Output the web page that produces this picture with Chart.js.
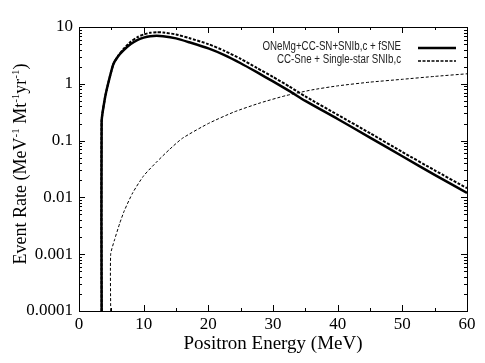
<!DOCTYPE html>
<html><head><meta charset="utf-8">
<script src="https://cdn.jsdelivr.net/npm/chart.js@4/dist/chart.umd.min.js"></script>
<style>html,body{margin:0;padding:0;background:#fff}#wrap{width:485px;height:363px}</style>
</head><body><div id="wrap"><canvas id="c" width="485" height="363"></canvas></div>
<script>
// Series: total (ONeMg+CC-SN+SNIb,c + fSNE), thick solid
const totalE = [3.5, 3.5, 4.0, 4.5, 5.3, 6.0, 6.8, 8.0, 9.0, 10.0, 11.0, 12.0, 13.0, 15.0, 17.0, 20.0, 22.5, 25.0, 27.5, 30.0, 32.5, 35.0, 40.0, 45.0, 50.0, 55.0, 60.0];
const totalR = [0.0001, 0.22, 0.55, 1.0, 2.2, 3.0, 3.8, 5.0, 5.9, 6.5, 6.9, 7.0, 6.9, 6.3, 5.4, 4.2, 3.2, 2.3, 1.6, 1.1, 0.75, 0.5, 0.24, 0.113, 0.053, 0.025, 0.012];
// Series: thick dashed
const thickDashE = [3.5, 3.5, 4.0, 4.5, 5.3, 6.0, 6.8, 8.0, 9.0, 10.0, 11.0, 12.0, 13.0, 15.0, 17.0, 20.0, 22.5, 25.0, 27.5, 30.0, 32.5, 35.0, 40.0, 45.0, 50.0, 55.0, 60.0];
const thickDashR = [0.0001, 0.22, 0.55, 1.0, 2.2, 3.05, 4.0, 5.5, 6.6, 7.4, 7.9, 8.1, 8.0, 7.4, 6.4, 5.0, 3.8, 2.75, 1.9, 1.32, 0.9, 0.6, 0.285, 0.135, 0.063, 0.03, 0.0145];
// Series: thin dashed
const thinE = [4.9, 4.9, 5.5, 6.3, 7.0, 8.3, 10.0, 12.0, 14.0, 16.0, 20.0, 24.0, 28.0, 32.0, 36.0, 40.0, 45.0, 50.0, 55.0, 60.0];
const thinR = [0.0001, 0.001, 0.0018, 0.0035, 0.0058, 0.012, 0.024, 0.042, 0.07, 0.11, 0.2, 0.32, 0.46, 0.62, 0.78, 0.92, 1.07, 1.2, 1.35, 1.5];
// Ticks
const xMajor = [0, 10, 20, 30, 40, 50, 60];
const xMinor = [5, 15, 25, 35, 45, 55];
const yMajor = [0.0001, 0.001, 0.01, 0.1, 1, 10];
const yMajorLabels = ['0.0001', '0.001', '0.01', '0.1', '1', '10'];
const legendLabels = ['ONeMg+CC-SN+SNIb,c + fSNE', 'CC-Sne + Single-star SNIb,c'];
const xTitle = 'Positron Energy (MeV)';

const pts = (xs, ys) => xs.map((x, i) => ({x: x, y: ys[i]}));

const SERIF = "'Liberation Serif', 'Times New Roman', serif";
Chart.defaults.font.family = SERIF;
Chart.defaults.color = '#000';

const decor = {
  id: 'decor',
  afterDatasetsDraw(chart) {
    const ctx = chart.ctx, a = chart.chartArea, xs = chart.scales.x, ys = chart.scales.y;
    ctx.save();
    ctx.strokeStyle = '#000';
    ctx.lineWidth = 1;
    ctx.setLineDash([]);
    ctx.strokeRect(Math.round(a.left) + 0.5, Math.round(a.top) + 0.5, Math.round(a.right - a.left), Math.round(a.bottom - a.top));
    ctx.beginPath();
    const xt = (v, len) => {
      const p = Math.round(xs.getPixelForValue(v)) + 0.5;
      ctx.moveTo(p, a.bottom); ctx.lineTo(p, a.bottom - len);
      ctx.moveTo(p, a.top); ctx.lineTo(p, a.top + len);
    };
    xMajor.forEach(v => xt(v, 6));
    xMinor.forEach(v => xt(v, 3));
    const yt = (v, len) => {
      const p = Math.round(ys.getPixelForValue(v)) + 0.5;
      ctx.moveTo(a.left, p); ctx.lineTo(a.left + len, p);
      ctx.moveTo(a.right, p); ctx.lineTo(a.right - len, p);
    };
    yMajor.forEach(v => yt(v, 6));
    yMajor.slice(0, -1).forEach(d => { for (let k = 2; k <= 9; k++) yt(d * k, 3); });
    ctx.stroke();

    // legend (condensed to mimic the narrow original face)
    ctx.font = "12px 'Liberation Sans', Arial, sans-serif";
    ctx.fillStyle = '#222';
    ctx.textAlign = 'right';
    ctx.textBaseline = 'middle';
    const tx = 401, y1 = 47, y2 = 60;
    [[legendLabels[0], y1], [legendLabels[1], y2]].forEach(([t, y]) => {
      ctx.save();
      ctx.translate(tx, y);
      ctx.scale(0.81, 1);
      ctx.fillText(t, 0, 0);
      ctx.restore();
    });
    ctx.beginPath();
    ctx.lineWidth = 2.5;
    ctx.moveTo(418, y1 + 1); ctx.lineTo(456, y1 + 1);
    ctx.stroke();
    ctx.beginPath();
    ctx.lineWidth = 1.3;
    ctx.setLineDash([3, 1.5]);
    ctx.moveTo(418, y2 + 1); ctx.lineTo(456, y2 + 1);
    ctx.stroke();
    ctx.setLineDash([]);

    // y title with superscripts
    ctx.fillStyle = '#000';
    const parts = [['Event Rate (MeV', 0], ['-1', 1], [' Mt', 0], ['-1', 1], ['yr', 0], ['-1', 1], [')', 0]];
    const big = '18px ' + SERIF, small = '11px ' + SERIF;
    let total = 0;
    parts.forEach(p => { ctx.font = p[1] ? small : big; total += ctx.measureText(p[0]).width; });
    ctx.translate(21, (a.top + a.bottom) / 2 - 5);
    ctx.rotate(-Math.PI / 2);
    ctx.textAlign = 'left';
    ctx.textBaseline = 'middle';
    let cx = -total / 2;
    parts.forEach(p => {
      ctx.font = p[1] ? small : big;
      ctx.fillText(p[0], cx, p[1] ? -5 : 0);
      cx += ctx.measureText(p[0]).width;
    });
    ctx.restore();
  }
};

new Chart(document.getElementById('c'), {
  type: 'line',
  data: {
    datasets: [
      {data: pts(thinE, thinR), borderColor: '#000', borderWidth: 1, borderDash: [3, 2], pointRadius: 0, tension: 0.2, fill: false},
      {data: pts(thickDashE, thickDashR), borderColor: '#000', borderWidth: 2, borderDash: [3, 1.5], pointRadius: 0, tension: 0.2, fill: false},
      {data: pts(totalE, totalR), borderColor: '#000', borderWidth: 2.5, pointRadius: 0, tension: 0.2, fill: false}
    ]
  },
  options: {
    responsive: false,
    animation: false,
    layout: {padding: {top: 27, right: 18, left: 0, bottom: 0}},
    plugins: {legend: {display: false}, tooltip: {enabled: false}},
    scales: {
      x: {
        type: 'linear', min: 0, max: 60,
        afterBuildTicks: s => { s.ticks = xMajor.map(v => ({value: v})); },
        afterFit: s => { s.height = 52; },
        grid: {display: false, drawTicks: false},
        border: {display: false},
        ticks: {font: {family: SERIF, size: 17}, color: '#000', padding: 3, maxRotation: 0},
        title: {display: true, text: xTitle, font: {family: SERIF, size: 19}, color: '#000', padding: {top: 0, bottom: 8}}
      },
      y: {
        type: 'logarithmic', min: 0.0001, max: 10,
        afterBuildTicks: s => { s.ticks = yMajor.map(v => ({value: v})); },
        afterFit: s => { s.width = 79; },
        grid: {display: false, drawTicks: false},
        border: {display: false},
        ticks: {font: {family: SERIF, size: 17}, color: '#000', padding: 6,
          callback: (v) => { const i = yMajor.findIndex(m => Math.abs(m - v) / m < 1e-6); return i >= 0 ? yMajorLabels[i] : ''; }}
      }
    }
  },
  plugins: [decor]
});
</script>
</body></html>
